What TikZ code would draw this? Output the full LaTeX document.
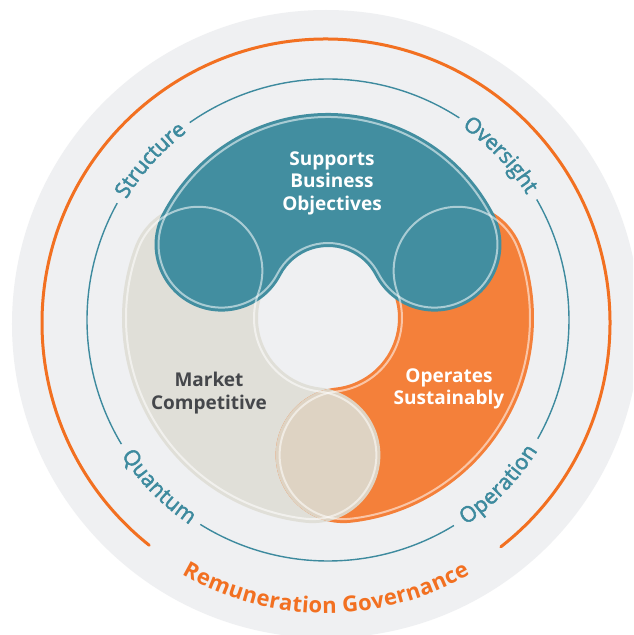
\documentclass[tikz,border=0pt]{standalone}
\usepackage{fontspec}
\setmainfont{Open Sans}
\newfontfamily\osans{Open Sans}
\newfontface\osansmed{Open Sans}[FakeBold=2.2]
\usetikzlibrary{decorations.text}
\definecolor{bggray}{HTML}{EFF0F2}
\definecolor{tealfill}{HTML}{428EA0}
\definecolor{tealline}{HTML}{3D8A9E}
\definecolor{orangefill}{HTML}{F4803A}
\definecolor{orangeline}{HTML}{F27021}
\definecolor{grayfill}{HTML}{E0DFD8}
\definecolor{beigefill}{HTML}{DED3C3}
\definecolor{darktext}{HTML}{45474B}
% band with round caps: start angle, end angle, inner radius, outer radius
\newcommand{\bandpath}[4]{%
  (#1:#4) arc[start angle=#1, end angle=#2, radius=#4]
  arc[start angle=#2, end angle=#2+180, radius={(#4-#3)/2}]
  arc[start angle=#2, end angle=#1, radius=#3]
  arc[start angle=#1+180, end angle=#1+360, radius={(#4-#3)/2}] -- cycle}
\newcommand{\ringlab}{\osansmed\fontsize{21.5}{25}\selectfont\color{tealline}}
\newcommand{\govlab}{\osans\bfseries\fontsize{22}{26}\selectfont\color{orangeline}}
\tikzset{
  outline/.style={draw=white, draw opacity=0.55, line width=2pt},
  ringline/.style={draw=tealline, line width=1.4pt},
  ringtext/.style={decorate, decoration={text along path, text align=center, raise=-6pt, text={|\ringlab|#1}}},
  centerlab/.style={font=\osans\bfseries\fontsize{19}{22.5}\selectfont, align=center},
}
\begin{document}
\begin{tikzpicture}[x=1pt, y=1pt]
\useasboundingbox (-328,-317) rectangle (305,318);
\clip (-328,-317) rectangle (305,318);
\fill[white] (-328,-317) rectangle (305,318);
% background disk
\fill[bggray] (-2,-6) circle[radius=314];
% outer orange ring
\draw[orangeline, line width=3pt, line cap=round] (-2,-5) ++(-52:284) arc[start angle=-52, end angle=231.5, radius=284];
% teal ring with gaps
\draw[ringline] (0,-2) ++(57:241) arc[start angle=57, end angle=125, radius=241];
\draw[ringline] (0,-2) ++(151:241) arc[start angle=151, end angle=211, radius=241];
\draw[ringline] (0,-2) ++(238:241) arc[start angle=238, end angle=301.5, radius=241];
\draw[ringline] (0,-2) ++(330.5:241) arc[start angle=330.5, end angle=390, radius=241];
% ring labels
\path[ringtext=Structure] (0,-2) ++(168:241) arc[start angle=168, end angle=108, radius=241];
\path[ringtext=Oversight] (0,-2) ++(73.7:241) arc[start angle=73.7, end angle=13.7, radius=241];
\path[ringtext=Quantum] (0,-2) ++(194.6:241) arc[start angle=194.6, end angle=254.6, radius=241];
\path[ringtext=Operation] (0,-2) ++(286:241) arc[start angle=286, end angle=346, radius=241];
\path[decorate, decoration={text along path, text align=center, raise=-6pt, text={|\govlab|Remuneration Governance}}] (-2,-5) ++(205:284) arc[start angle=205, end angle=335, radius=284];
% bands
\fill[grayfill] \bandpath{160}{263.5}{70}{206};
\fill[orangefill] \bandpath{-83.5}{20}{70}{206};
\begin{scope}
  \clip (263.5:138) circle[radius=68];
  \fill[beigefill] (276.5:138) circle[radius=68];
\end{scope}
\begin{scope}[shift={(0,18)}]
  \fill[tealfill] \bandpath{27.5}{152.5}{53}{187};
\end{scope}
% outlines
\draw[outline] \bandpath{160}{263.5}{74}{202};
\draw[outline] \bandpath{-83.5}{20}{74}{202};
\begin{scope}[shift={(0,18)}]
  \draw[outline] \bandpath{27.5}{152.5}{57}{183};
\end{scope}
% labels
\node[centerlab, text=white] (supports) at (4,135) {Supports\\Business\\Objectives};
\node[centerlab, text=darktext] (market) at (-119,-75) {Market\\Competitive};
\node[centerlab, text=white] (operates) at (121,-71) {Operates\\Sustainably};
\end{tikzpicture}
\end{document}
